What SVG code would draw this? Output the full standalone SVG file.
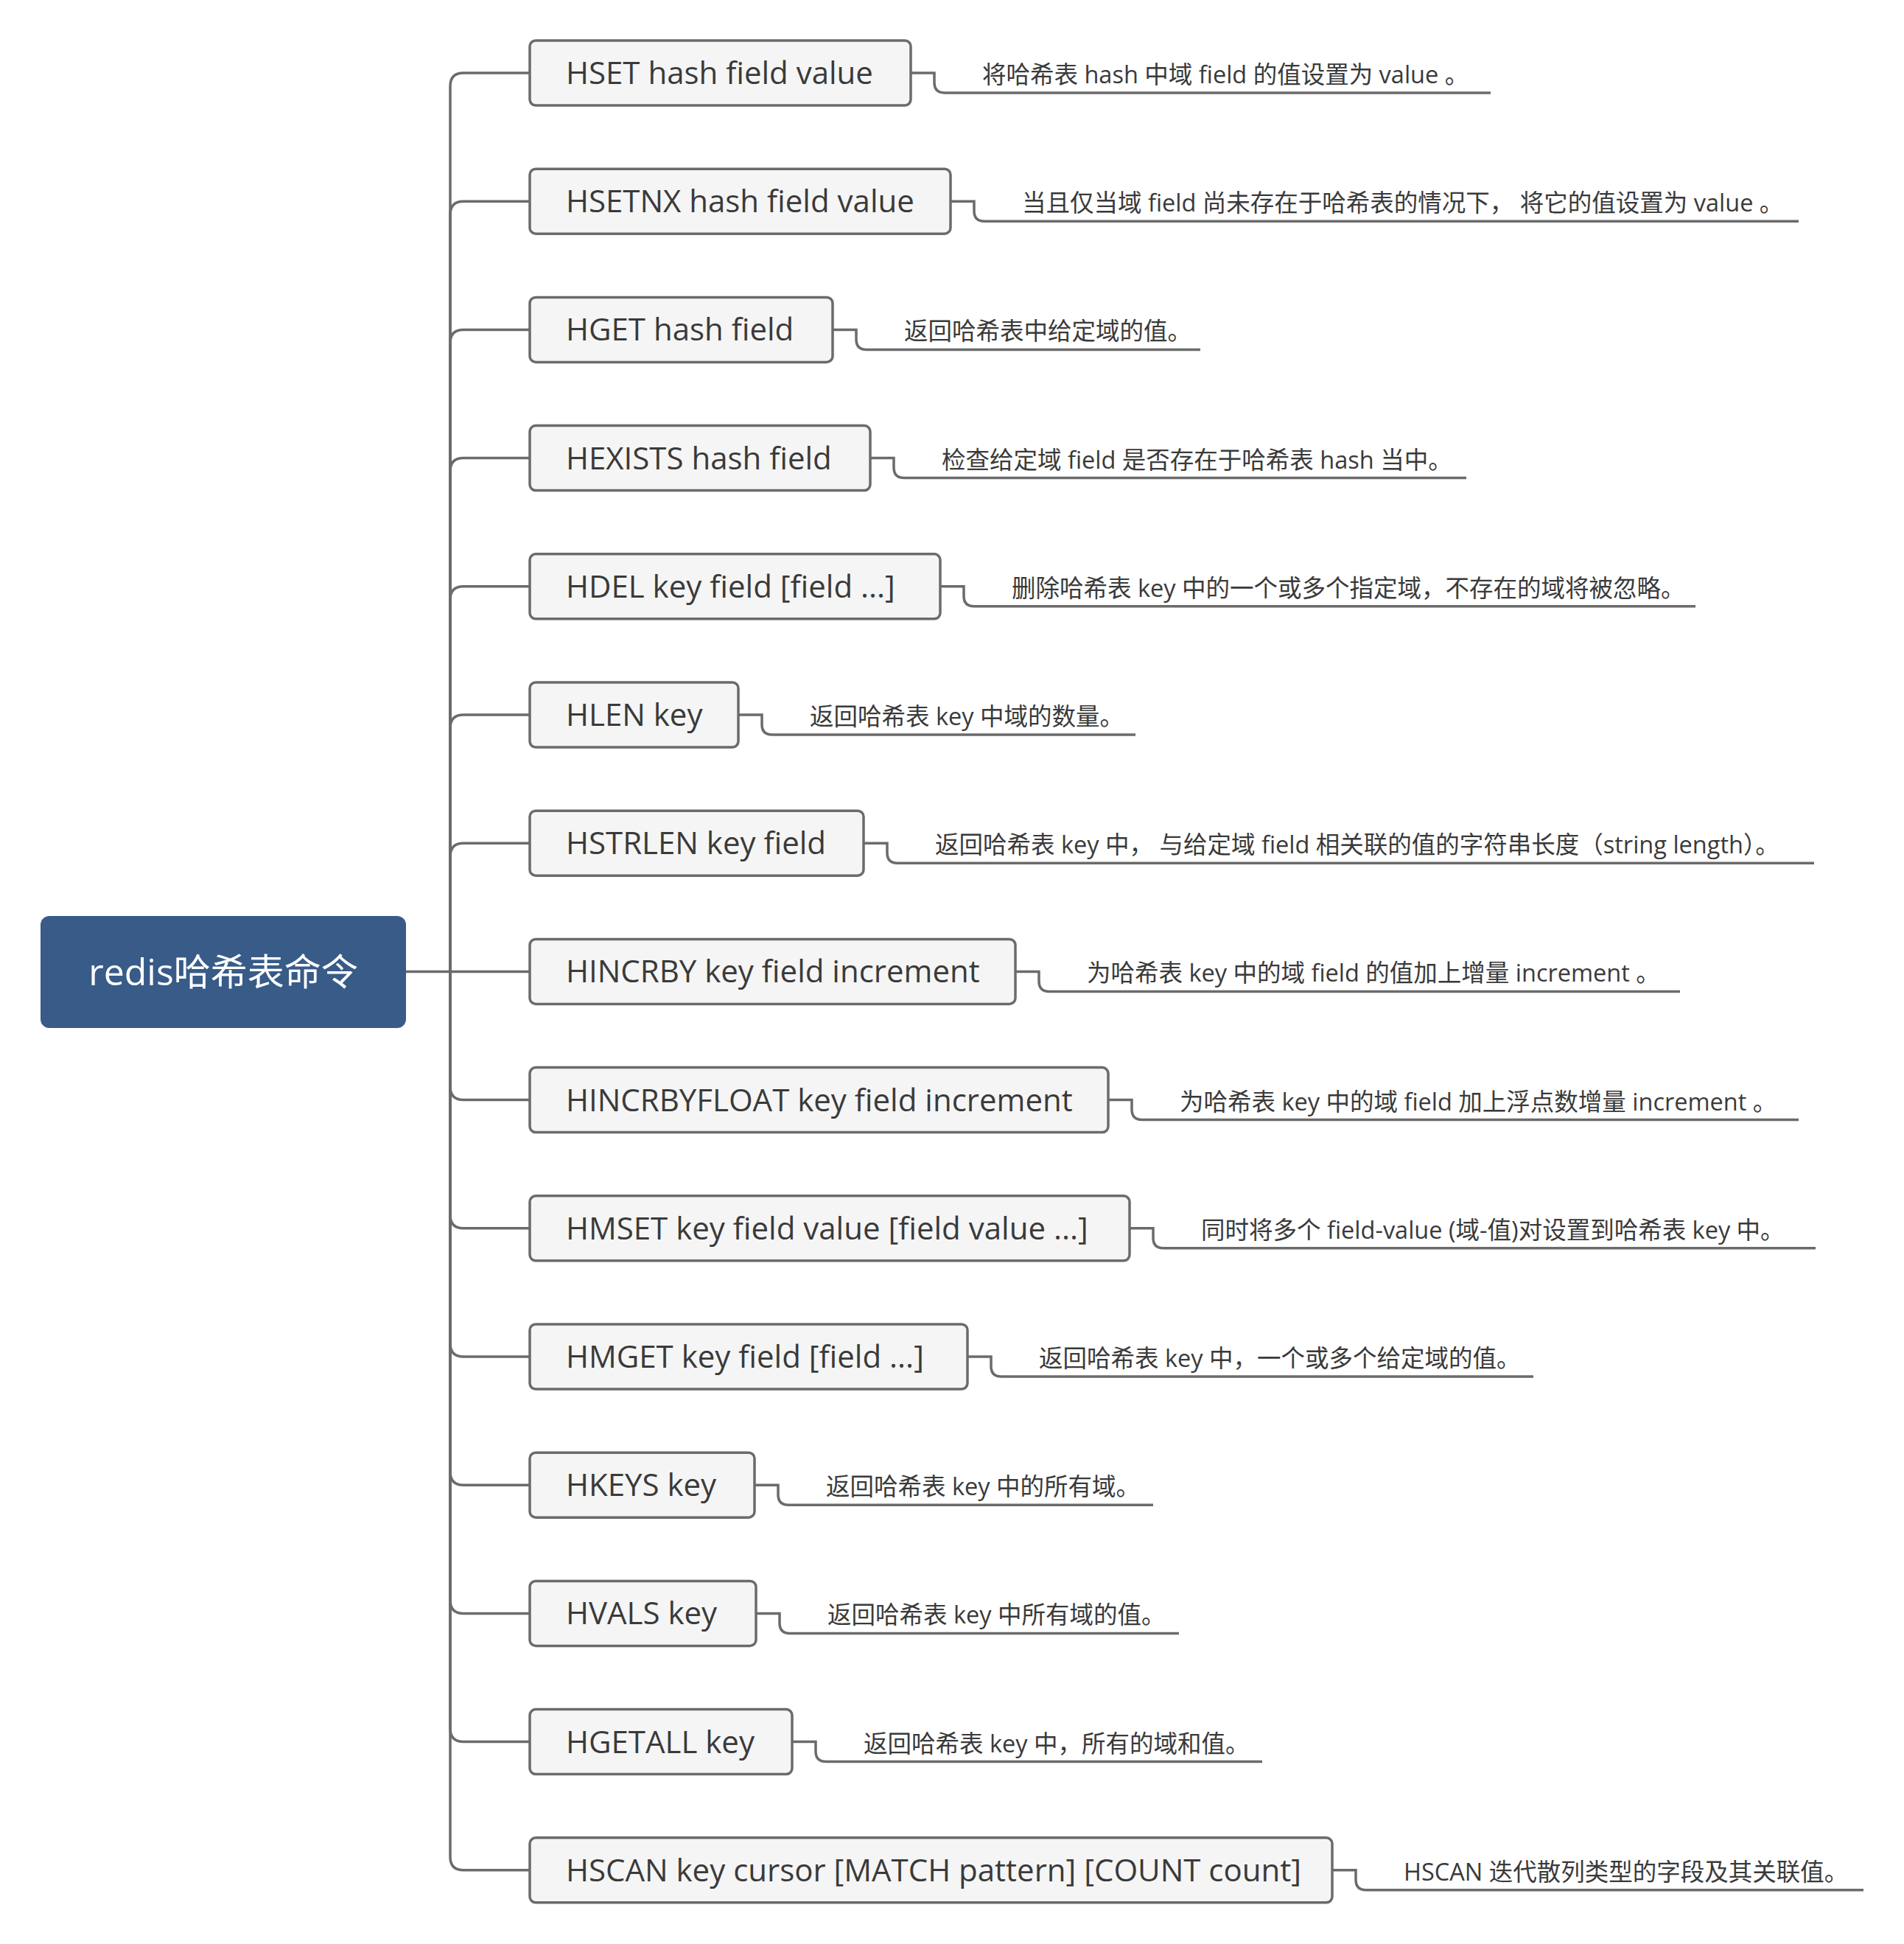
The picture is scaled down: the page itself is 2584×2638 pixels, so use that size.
<svg xmlns="http://www.w3.org/2000/svg" width="2584" height="2638" viewBox="0 0 2584 2638">
<style>
.bg{fill:#ffffff}
.root rect{fill:#385b88}
.root text{fill:#ffffff;font-family:"Open Sans","Noto Sans CJK SC",sans-serif;font-size:50px;text-anchor:middle}
.cmd rect{fill:#f5f5f5;stroke:#6b6b6b;stroke-width:3.5}
.cmd text{fill:#3a3a3a;font-family:"Open Sans","Noto Sans CJK SC",sans-serif;font-size:42px}
.desc{fill:#3a3a3a;font-family:"Open Sans","Noto Sans CJK SC",sans-serif;font-size:32.5px}
.conn path{fill:none;stroke:#6b6b6b;stroke-width:3.5}
</style>
<rect class="bg" x="0" y="0" width="2584" height="2638"/>
<g id="connectors" class="conn">
<path d="M551,1318.4 H719"/>
<path d="M611,1318.4 V117 Q611,99 629,99 H719"/>
<path d="M611,1318.4 V291.2 Q611,273.2 629,273.2 H719"/>
<path d="M611,1318.4 V465.4 Q611,447.4 629,447.4 H719"/>
<path d="M611,1318.4 V639.6 Q611,621.6 629,621.6 H719"/>
<path d="M611,1318.4 V813.8 Q611,795.8 629,795.8 H719"/>
<path d="M611,1318.4 V988 Q611,970 629,970 H719"/>
<path d="M611,1318.4 V1162.2 Q611,1144.2 629,1144.2 H719"/>
<path d="M611,1318.4 V1474.6 Q611,1492.6 629,1492.6 H719"/>
<path d="M611,1318.4 V1648.8 Q611,1666.8 629,1666.8 H719"/>
<path d="M611,1318.4 V1823 Q611,1841 629,1841 H719"/>
<path d="M611,1318.4 V1997.2 Q611,2015.2 629,2015.2 H719"/>
<path d="M611,1318.4 V2171.4 Q611,2189.4 629,2189.4 H719"/>
<path d="M611,1318.4 V2345.6 Q611,2363.6 629,2363.6 H719"/>
<path d="M611,1318.4 V2519.8 Q611,2537.8 629,2537.8 H719"/>
<path d="M1236,99 H1268 V112 Q1268,126 1282,126 H2023"/>
<path d="M1290,273.2 H1322 V286.2 Q1322,300.2 1336,300.2 H2441"/>
<path d="M1130,447.4 H1162 V460.4 Q1162,474.4 1176,474.4 H1629"/>
<path d="M1181,621.6 H1213 V634.6 Q1213,648.6 1227,648.6 H1990"/>
<path d="M1276,795.8 H1308 V808.8 Q1308,822.8 1322,822.8 H2301"/>
<path d="M1002,970 H1034 V983 Q1034,997 1048,997 H1541"/>
<path d="M1172,1144.2 H1204 V1157.2 Q1204,1171.2 1218,1171.2 H2462"/>
<path d="M1378,1318.4 H1410 V1331.4 Q1410,1345.4 1424,1345.4 H2280"/>
<path d="M1504,1492.6 H1536 V1505.6 Q1536,1519.6 1550,1519.6 H2441"/>
<path d="M1533,1666.8 H1565 V1679.8 Q1565,1693.8 1579,1693.8 H2464"/>
<path d="M1313,1841 H1345 V1854 Q1345,1868 1359,1868 H2081"/>
<path d="M1024,2015.2 H1056 V2028.2 Q1056,2042.2 1070,2042.2 H1565"/>
<path d="M1026,2189.4 H1058 V2202.4 Q1058,2216.4 1072,2216.4 H1600"/>
<path d="M1075,2363.6 H1107 V2376.6 Q1107,2390.6 1121,2390.6 H1713"/>
<path d="M1808,2537.8 H1840 V2550.8 Q1840,2564.8 1854,2564.8 H2529"/>
</g>
<g id="root" class="root">
<rect x="55" y="1243" width="496" height="152" rx="12"/>
<text x="303" y="1337">redis哈希表命令</text>
</g>
<g id="n1" class="cmd"><rect x="719" y="55" width="517" height="88" rx="8"/><text x="768" y="114">HSET hash field value</text></g>
<g id="n2" class="cmd"><rect x="719" y="229.2" width="571" height="88" rx="8"/><text x="768" y="288.2">HSETNX hash field value</text></g>
<g id="n3" class="cmd"><rect x="719" y="403.4" width="411" height="88" rx="8"/><text x="768" y="462.4">HGET hash field</text></g>
<g id="n4" class="cmd"><rect x="719" y="577.6" width="462" height="88" rx="8"/><text x="768" y="636.6">HEXISTS hash field</text></g>
<g id="n5" class="cmd"><rect x="719" y="751.8" width="557" height="88" rx="8"/><text x="768" y="810.8">HDEL key field [field ...]</text></g>
<g id="n6" class="cmd"><rect x="719" y="926" width="283" height="88" rx="8"/><text x="768" y="985">HLEN key</text></g>
<g id="n7" class="cmd"><rect x="719" y="1100.2" width="453" height="88" rx="8"/><text x="768" y="1159.2">HSTRLEN key field</text></g>
<g id="n8" class="cmd"><rect x="719" y="1274.4" width="659" height="88" rx="8"/><text x="768" y="1333.4">HINCRBY key field increment</text></g>
<g id="n9" class="cmd"><rect x="719" y="1448.6" width="785" height="88" rx="8"/><text x="768" y="1507.6">HINCRBYFLOAT key field increment</text></g>
<g id="n10" class="cmd"><rect x="719" y="1622.8" width="814" height="88" rx="8"/><text x="768" y="1681.8">HMSET key field value [field value ...]</text></g>
<g id="n11" class="cmd"><rect x="719" y="1797" width="594" height="88" rx="8"/><text x="768" y="1856">HMGET key field [field ...]</text></g>
<g id="n12" class="cmd"><rect x="719" y="1971.2" width="305" height="88" rx="8"/><text x="768" y="2030.2">HKEYS key</text></g>
<g id="n13" class="cmd"><rect x="719" y="2145.4" width="307" height="88" rx="8"/><text x="768" y="2204.4">HVALS key</text></g>
<g id="n14" class="cmd"><rect x="719" y="2319.6" width="356" height="88" rx="8"/><text x="768" y="2378.6">HGETALL key</text></g>
<g id="n15" class="cmd"><rect x="719" y="2493.8" width="1089" height="88" rx="8"/><text x="768" y="2552.8">HSCAN key cursor [MATCH pattern] [COUNT count]</text></g>
<g id="d1"><text class="desc" x="1333" y="113">将哈希表 hash 中域 field 的值设置为 value 。</text></g>
<g id="d2"><text class="desc" x="1387" y="287.2">当且仅当域 field 尚未存在于哈希表的情况下， 将它的值设置为 value 。</text></g>
<g id="d3"><text class="desc" x="1227" y="461.4">返回哈希表中给定域的值。</text></g>
<g id="d4"><text class="desc" x="1278" y="635.6">检查给定域 field 是否存在于哈希表 hash 当中。</text></g>
<g id="d5"><text class="desc" x="1373" y="809.8">删除哈希表 key 中的一个或多个指定域，不存在的域将被忽略。</text></g>
<g id="d6"><text class="desc" x="1099" y="984">返回哈希表 key 中域的数量。</text></g>
<g id="d7"><text class="desc" x="1269" y="1158.2">返回哈希表 key 中， 与给定域 field 相关联的值的字符串长度（string length）。</text></g>
<g id="d8"><text class="desc" x="1475" y="1332.4">为哈希表 key 中的域 field 的值加上增量 increment 。</text></g>
<g id="d9"><text class="desc" x="1601" y="1506.6">为哈希表 key 中的域 field 加上浮点数增量 increment 。</text></g>
<g id="d10"><text class="desc" x="1630" y="1680.8">同时将多个 field-value (域-值)对设置到哈希表 key 中。</text></g>
<g id="d11"><text class="desc" x="1410" y="1855">返回哈希表 key 中，一个或多个给定域的值。</text></g>
<g id="d12"><text class="desc" x="1121" y="2029.2">返回哈希表 key 中的所有域。</text></g>
<g id="d13"><text class="desc" x="1123" y="2203.4">返回哈希表 key 中所有域的值。</text></g>
<g id="d14"><text class="desc" x="1172" y="2377.6">返回哈希表 key 中，所有的域和值。</text></g>
<g id="d15"><text class="desc" x="1905" y="2551.8">HSCAN 迭代散列类型的字段及其关联值。</text></g>
</svg>
